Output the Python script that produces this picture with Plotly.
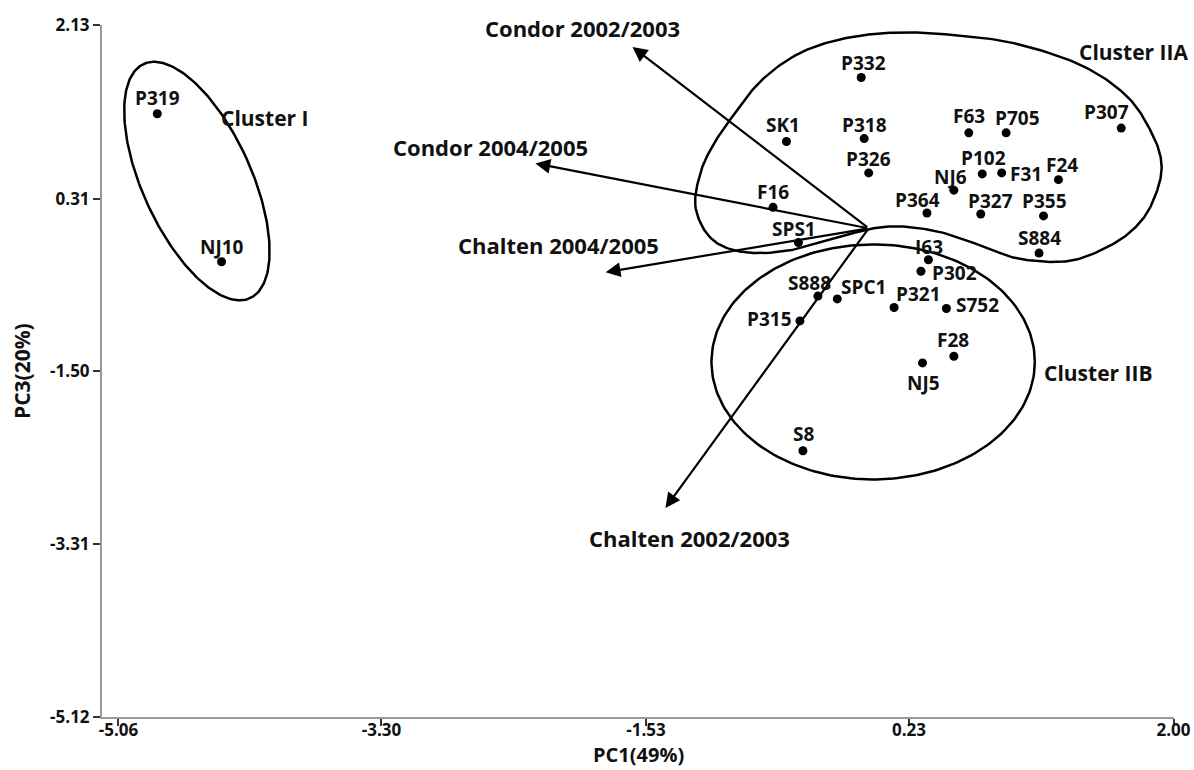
import numpy as np
import plotly.graph_objects as go

# ---------------- data ----------------
names = ["P319", "NJ10", "P332", "SK1", "P318", "P326", "F63", "P705", "P307",
         "P102", "F31", "F24", "NJ6", "F16", "P364", "P327", "P355", "SPS1",
         "S884", "I63", "P302", "S888", "SPC1", "P315", "P321", "S752", "F28",
         "NJ5", "S8"]
pc1 = [-4.80, -4.37, -0.09, -0.59, -0.07, -0.04, 0.63, 0.88, 1.65,
       0.72, 0.85, 1.23, 0.53, -0.68, 0.35, 0.71, 1.13, -0.51,
       1.10, 0.36, 0.31, -0.38, -0.25, -0.50, 0.13, 0.48, 0.53,
       0.32, -0.48]
pc3 = [1.20, -0.35, 1.58, 0.91, 0.94, 0.58, 1.00, 1.00, 1.05,
       0.57, 0.58, 0.51, 0.40, 0.22, 0.16, 0.15, 0.13, -0.15,
       -0.26, -0.33, -0.45, -0.71, -0.74, -0.97, -0.83, -0.84, -1.34,
       -1.41, -2.33]

vector_names = ["Condor 2002/2003", "Condor 2004/2005", "Chalten 2004/2005", "Chalten 2002/2003"]
vector_pc1 = [-1.62, -2.27, -1.80, -1.40]
vector_pc3 = [1.90, 0.68, -0.46, -2.93]
vector_origin = (-0.04, 0.0)

x_tickvals = [-5.06, -3.30, -1.53, 0.23, 2.00]
y_tickvals = [2.13, 0.31, -1.50, -3.31, -5.12]

# cluster IIA outline (data units)
iia_x = [-1.20, -1.17, -1.10, -0.98, -0.77, -0.52, -0.23, 0.12, 0.49, 0.93, 1.38, 1.69,
         1.86, 1.92, 1.88, 1.78, 1.60, 1.31, 0.97, 0.71, 0.44, 0.17, -0.04, -0.30,
         -0.53, -0.79, -1.00, -1.13]
iia_y = [0.24, 0.56, 0.82, 1.11, 1.53, 1.82, 1.98, 2.05, 2.03, 1.94, 1.71, 1.38,
         0.98, 0.66, 0.35, 0.07, -0.16, -0.34, -0.32, -0.18, -0.04, 0.02, -0.01, -0.12,
         -0.22, -0.26, -0.20, -0.04]

# ---------------- layout geometry ----------------
W, H = 1194, 770
ML, MR, MT, MB = 102, 20, 25, 53
XR = [-5.17, 2.003]
YR = [-5.12, 2.13]
px_x = (W - ML - MR) / (XR[1] - XR[0])
px_y = (H - MT - MB) / (YR[1] - YR[0])

FONT = "Open Sans"

# label offsets (pixels, x right / y up) relative to each point
label_shift = {
    "P319": (0, 16), "NJ10": (0, 15), "P332": (2, 15), "SK1": (-3, 16), "P318": (0, 14),
    "P326": (0, 14), "F63": (0, 17), "P705": (11, 15), "P307": (-15, 16), "P102": (1, 16),
    "F31": (24, -1), "F24": (4, 15), "NJ6": (-3, 13), "F16": (0, 15), "P364": (-9, 13),
    "P327": (10, 13), "P355": (1, 15), "SPS1": (-4, 14), "S884": (0, 15), "I63": (1, 13),
    "P302": (34, -2), "S888": (-8, 13), "SPC1": (26, 12), "P321": (24, 14), "S752": (31, 3),
    "P315": (-30, 2), "F28": (-1, 16), "NJ5": (1, -20), "S8": (1, 17),
}


def ellipse(cx, cy, a_px, b_px, angle_deg, n=240):
    t = np.linspace(0, 2 * np.pi, n)
    th = np.radians(angle_deg)
    u = b_px * np.cos(t)
    v = a_px * np.sin(t)
    dx = u * np.cos(th) + v * np.sin(th)
    dy = -u * np.sin(th) + v * np.cos(th)
    return cx + dx / px_x, cy - dy / px_y


def closed_catmull(xs, ys, n=20):
    P = np.column_stack([xs, ys]) * np.array([px_x, px_y])
    m = len(P)
    out = []
    for i in range(m):
        p0, p1, p2, p3 = P[(i - 1) % m], P[i], P[(i + 1) % m], P[(i + 2) % m]
        for t in np.linspace(0, 1, n, endpoint=False):
            t2, t3 = t * t, t * t * t
            pt = 0.5 * ((2 * p1) + (-p0 + p2) * t + (2 * p0 - 5 * p1 + 4 * p2 - p3) * t2
                        + (-p0 + 3 * p1 - 3 * p2 + p3) * t3)
            out.append(pt)
    out.append(out[0])
    out = np.array(out) / np.array([px_x, px_y])
    return out[:, 0], out[:, 1]


fig = go.Figure()

line_style = dict(color="black", width=2.5)

ex, ey = ellipse(-4.535, 0.495, 128.6, 54.5, 24.4)
fig.add_trace(go.Scatter(x=ex, y=ey, mode="lines", line=line_style, hoverinfo="skip", cliponaxis=False))

ex2, ey2 = ellipse(-0.01, -1.40, 117.5, 161.7, 0)
fig.add_trace(go.Scatter(x=ex2, y=ey2, mode="lines", line=line_style, hoverinfo="skip", cliponaxis=False))

cx, cy = closed_catmull(iia_x, iia_y)
fig.add_trace(go.Scatter(x=cx, y=cy, mode="lines", line=line_style, hoverinfo="skip", cliponaxis=False))

fig.add_trace(go.Scatter(
    x=pc1, y=pc3, mode="markers", text=names,
    marker=dict(color="black", size=9),
    hoverinfo="text", cliponaxis=False,
))

for nm, px, py in zip(names, pc1, pc3):
    sx, sy = label_shift.get(nm, (0, 15))
    fig.add_annotation(x=px, y=py, xref="x", yref="y", text="<b>%s</b>" % nm,
                       showarrow=False, xshift=sx, yshift=sy,
                       font=dict(family=FONT, size=19, color="#111"))

for nm, vx, vy in zip(vector_names, vector_pc1, vector_pc3):
    fig.add_annotation(x=vx, y=vy, ax=vector_origin[0], ay=vector_origin[1],
                       xref="x", yref="y", axref="x", ayref="y",
                       text="", showarrow=True, arrowhead=2, arrowsize=1.35,
                       arrowwidth=2.2, arrowcolor="black")

vec_label_offsets = {
    "Condor 2002/2003": (-50, 19),
    "Condor 2004/2005": (-45, 16),
    "Chalten 2004/2005": (-47, 27),
    "Chalten 2002/2003": (24, -30),
}
for nm, vx, vy in zip(vector_names, vector_pc1, vector_pc3):
    dx, dy = vec_label_offsets[nm]
    fig.add_annotation(x=vx, y=vy, xref="x", yref="y", text="<b>%s</b>" % nm,
                       showarrow=False, xshift=dx, yshift=dy,
                       font=dict(family=FONT, size=22, color="#111"))

cluster_labels = [("Cluster I", -4.08, 1.155), ("Cluster IIA", 1.73, 1.85), ("Cluster IIB", 1.50, -1.52)]
for txt, lx, ly in cluster_labels:
    fig.add_annotation(x=lx, y=ly, xref="x", yref="y", text="<b>%s</b>" % txt,
                       showarrow=False, font=dict(family=FONT, size=21, color="#111"))

fig.add_annotation(x=0.5, y=0, xref="paper", yref="paper", yshift=-37, yanchor="middle",
                   text="<b>PC1(49%)</b>", showarrow=False, borderpad=0,
                   font=dict(family=FONT, size=20, color="#111"))
fig.add_annotation(x=0, y=0.5, xref="paper", yref="paper", xshift=-80, xanchor="center",
                   textangle=-90, text="<b>PC3(20%)</b>", showarrow=False,
                   font=dict(family=FONT, size=21, color="#111"))

axis_font = dict(family=FONT, size=17, color="#111")
common = dict(showgrid=False, zeroline=False, showline=True, linecolor="#999", linewidth=2,
              ticks="outside", ticklen=7, tickcolor="#333", tickwidth=1.5,
              tickfont=axis_font, automargin=False)
fig.update_layout(
    width=W, height=H,
    margin=dict(l=ML, r=MR, t=MT, b=MB),
    paper_bgcolor="white", plot_bgcolor="white",
    showlegend=False,
    xaxis=dict(range=XR, tickvals=x_tickvals, ticklabelstandoff=-10,
               ticktext=["<b>%.2f</b>" % v for v in x_tickvals], **common),
    yaxis=dict(range=YR, tickvals=y_tickvals,
               ticktext=["<b>%.2f</b>" % v for v in y_tickvals], **common),
)

fig.write_html("out.html", config={"displayModeBar": False},
               post_script="document.body.style.margin='0px';document.body.style.overflow='hidden';")
